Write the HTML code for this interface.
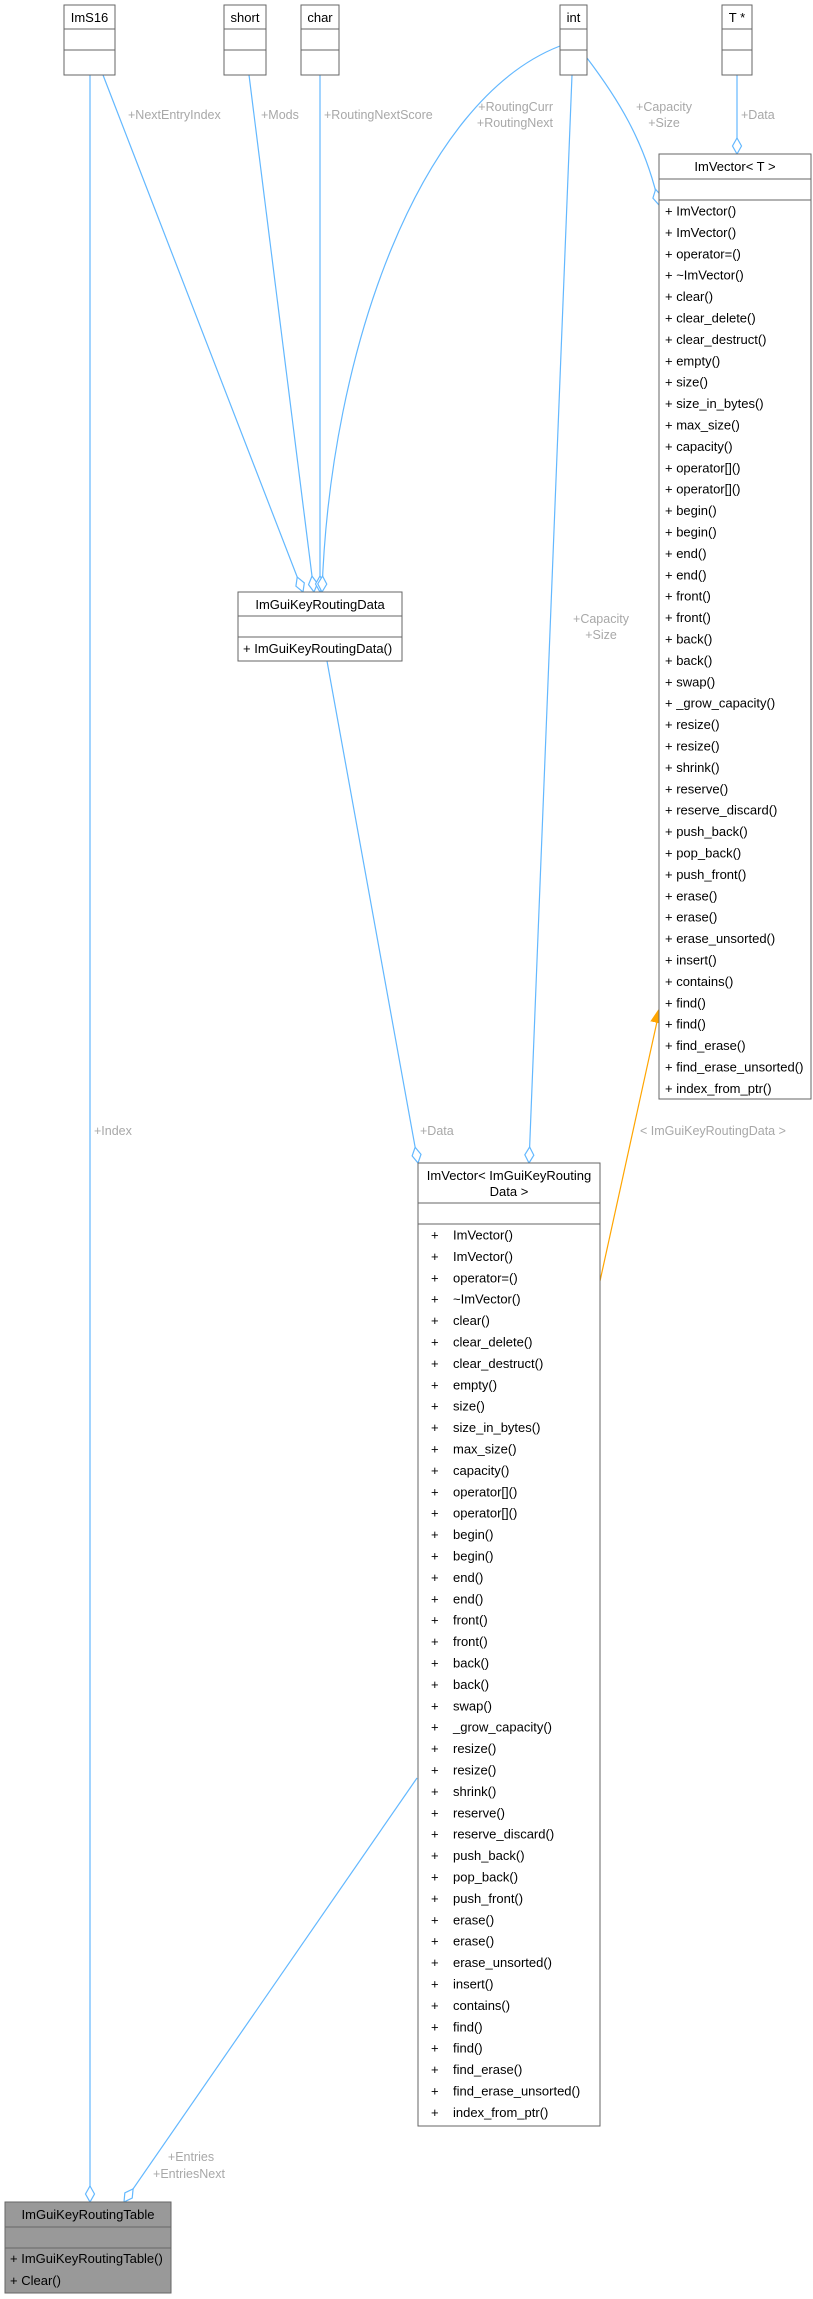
<!DOCTYPE html>
<html><head><meta charset="utf-8"><style>
html,body{margin:0;padding:0;background:#fff;}
svg{display:block;font-family:"Liberation Sans",Arial,sans-serif;}
.t{font-size:13px;fill:#000;}
.l{font-size:12.5px;fill:#a8a8a8;}
.b{fill:#fff;stroke:#666;stroke-width:1;}
.e{fill:none;stroke:#63b8ff;stroke-width:1.2;}
</style></head><body>
<svg width="813" height="2299" viewBox="0 0 813 2299" xmlns="http://www.w3.org/2000/svg">
<defs>
<marker id="d" markerUnits="userSpaceOnUse" markerWidth="20" markerHeight="12" refX="17" refY="6" orient="auto" viewBox="0 0 20 12">
<path d="M1,6 L9,1.5 L17,6 L9,10.5 Z" fill="#fff" stroke="#63b8ff" stroke-width="1.2"/>
</marker>
<marker id="a" markerUnits="userSpaceOnUse" markerWidth="16" markerHeight="14" refX="15" refY="7" orient="auto" viewBox="0 0 16 14">
<path d="M0,1 L15,7 L0,13 Z" fill="#ffa500" stroke="#ffa500"/>
</marker>
</defs>

<!-- edges -->
<path class="e" d="M90,75 L90,2202" marker-end="url(#d)"/>
<path class="e" d="M103,75 L303,592" marker-end="url(#d)"/>
<path class="e" d="M249,75 L314,592" marker-end="url(#d)"/>
<path class="e" d="M320,75 L320,592" marker-end="url(#d)"/>
<path class="e" d="M560,46 C420,100 330,350 322,592" marker-end="url(#d)"/>
<path class="e" d="M587,58 C615,95 645,140 659,205" marker-end="url(#d)"/>
<path class="e" d="M737,75 L737,154" marker-end="url(#d)"/>
<path class="e" d="M572,75 L529,1163" marker-end="url(#d)"/>
<path class="e" d="M327,661 L418,1163" marker-end="url(#d)"/>
<path class="e" d="M417,1778 L124,2202" marker-end="url(#d)"/>
<path d="M600,1281 L660,1008" stroke="#ffa500" stroke-width="1.2" fill="none" marker-end="url(#a)"/>

<!-- edge labels -->
<text class="l" x="128" y="119">+NextEntryIndex</text>
<text class="l" x="261" y="119">+Mods</text>
<text class="l" x="324" y="119">+RoutingNextScore</text>
<text class="l" x="553" y="111" text-anchor="end">+RoutingCurr</text>
<text class="l" x="553" y="127" text-anchor="end">+RoutingNext</text>
<text class="l" x="664" y="111" text-anchor="middle">+Capacity</text>
<text class="l" x="664" y="127" text-anchor="middle">+Size</text>
<text class="l" x="741" y="119">+Data</text>
<text class="l" x="601" y="623" text-anchor="middle">+Capacity</text>
<text class="l" x="601" y="639" text-anchor="middle">+Size</text>
<text class="l" x="94" y="1135">+Index</text>
<text class="l" x="420" y="1135">+Data</text>
<text class="l" x="640" y="1135">&lt; ImGuiKeyRoutingData &gt;</text>
<text class="l" x="191" y="2161" text-anchor="middle">+Entries</text>
<text class="l" x="189" y="2178" text-anchor="middle">+EntriesNext</text>

<!-- top boxes -->
<g>
<rect class="b" x="64" y="5" width="51" height="70"/><line class="b" x1="64" y1="29" x2="115" y2="29"/><line class="b" x1="64" y1="50" x2="115" y2="50"/>
<text class="t" x="89.5" y="22" text-anchor="middle">ImS16</text>
<rect class="b" x="224" y="5" width="42" height="70"/><line class="b" x1="224" y1="29" x2="266" y2="29"/><line class="b" x1="224" y1="50" x2="266" y2="50"/>
<text class="t" x="245" y="22" text-anchor="middle">short</text>
<rect class="b" x="301" y="5" width="38" height="70"/><line class="b" x1="301" y1="29" x2="339" y2="29"/><line class="b" x1="301" y1="50" x2="339" y2="50"/>
<text class="t" x="320" y="22" text-anchor="middle">char</text>
<rect class="b" x="560" y="5" width="27" height="70"/><line class="b" x1="560" y1="29" x2="587" y2="29"/><line class="b" x1="560" y1="50" x2="587" y2="50"/>
<text class="t" x="573.5" y="22" text-anchor="middle">int</text>
<rect class="b" x="722" y="5" width="30" height="70"/><line class="b" x1="722" y1="29" x2="752" y2="29"/><line class="b" x1="722" y1="50" x2="752" y2="50"/>
<text class="t" x="737" y="22" text-anchor="middle">T *</text>
</g>

<!-- ImGuiKeyRoutingData -->
<rect class="b" x="238" y="592" width="164" height="69"/><line class="b" x1="238" y1="616" x2="402" y2="616"/><line class="b" x1="238" y1="637" x2="402" y2="637"/>
<text class="t" x="320" y="609" text-anchor="middle">ImGuiKeyRoutingData</text>
<text class="t" x="243" y="653">+ ImGuiKeyRoutingData()</text>

<!-- ImVector<T> -->
<rect class="b" x="659" y="154" width="152" height="945"/><line class="b" x1="659" y1="179" x2="811" y2="179"/><line class="b" x1="659" y1="200" x2="811" y2="200"/>
<text class="t" x="735" y="171" text-anchor="middle">ImVector&lt; T &gt;</text>
<g id="m1" class="t">
<text x="665" y="215.5">+ ImVector()</text>
<text x="665" y="236.9">+ ImVector()</text>
<text x="665" y="258.3">+ operator=()</text>
<text x="665" y="279.7">+ ~ImVector()</text>
<text x="665" y="301.1">+ clear()</text>
<text x="665" y="322.5">+ clear_delete()</text>
<text x="665" y="343.9">+ clear_destruct()</text>
<text x="665" y="365.3">+ empty()</text>
<text x="665" y="386.7">+ size()</text>
<text x="665" y="408.1">+ size_in_bytes()</text>
<text x="665" y="429.5">+ max_size()</text>
<text x="665" y="450.9">+ capacity()</text>
<text x="665" y="472.3">+ operator[]()</text>
<text x="665" y="493.7">+ operator[]()</text>
<text x="665" y="515.1">+ begin()</text>
<text x="665" y="536.5">+ begin()</text>
<text x="665" y="557.9">+ end()</text>
<text x="665" y="579.3">+ end()</text>
<text x="665" y="600.7">+ front()</text>
<text x="665" y="622.1">+ front()</text>
<text x="665" y="643.5">+ back()</text>
<text x="665" y="664.9">+ back()</text>
<text x="665" y="686.3">+ swap()</text>
<text x="665" y="707.7">+ _grow_capacity()</text>
<text x="665" y="729.1">+ resize()</text>
<text x="665" y="750.5">+ resize()</text>
<text x="665" y="771.9">+ shrink()</text>
<text x="665" y="793.3">+ reserve()</text>
<text x="665" y="814.7">+ reserve_discard()</text>
<text x="665" y="836.1">+ push_back()</text>
<text x="665" y="857.5">+ pop_back()</text>
<text x="665" y="878.9">+ push_front()</text>
<text x="665" y="900.3">+ erase()</text>
<text x="665" y="921.7">+ erase()</text>
<text x="665" y="943.1">+ erase_unsorted()</text>
<text x="665" y="964.5">+ insert()</text>
<text x="665" y="985.9">+ contains()</text>
<text x="665" y="1007.3">+ find()</text>
<text x="665" y="1028.7">+ find()</text>
<text x="665" y="1050.1">+ find_erase()</text>
<text x="665" y="1071.5">+ find_erase_unsorted()</text>
<text x="665" y="1092.9">+ index_from_ptr()</text>
</g>

<!-- ImVector<ImGuiKeyRoutingData> -->
<rect class="b" x="418" y="1163" width="182" height="963"/><line class="b" x1="418" y1="1203" x2="600" y2="1203"/><line class="b" x1="418" y1="1224" x2="600" y2="1224"/>
<text class="t" x="509" y="1180" text-anchor="middle">ImVector&lt; ImGuiKeyRouting</text>
<text class="t" x="509" y="1196" text-anchor="middle">Data &gt;</text>
<g class="t">
<text x="431" y="1239.5">+</text><text x="453" y="1239.5">ImVector()</text>
<text x="431" y="1260.9">+</text><text x="453" y="1260.9">ImVector()</text>
<text x="431" y="1282.3">+</text><text x="453" y="1282.3">operator=()</text>
<text x="431" y="1303.7">+</text><text x="453" y="1303.7">~ImVector()</text>
<text x="431" y="1325.1">+</text><text x="453" y="1325.1">clear()</text>
<text x="431" y="1346.5">+</text><text x="453" y="1346.5">clear_delete()</text>
<text x="431" y="1367.9">+</text><text x="453" y="1367.9">clear_destruct()</text>
<text x="431" y="1389.3">+</text><text x="453" y="1389.3">empty()</text>
<text x="431" y="1410.7">+</text><text x="453" y="1410.7">size()</text>
<text x="431" y="1432.1">+</text><text x="453" y="1432.1">size_in_bytes()</text>
<text x="431" y="1453.5">+</text><text x="453" y="1453.5">max_size()</text>
<text x="431" y="1474.9">+</text><text x="453" y="1474.9">capacity()</text>
<text x="431" y="1496.3">+</text><text x="453" y="1496.3">operator[]()</text>
<text x="431" y="1517.7">+</text><text x="453" y="1517.7">operator[]()</text>
<text x="431" y="1539.1">+</text><text x="453" y="1539.1">begin()</text>
<text x="431" y="1560.5">+</text><text x="453" y="1560.5">begin()</text>
<text x="431" y="1581.9">+</text><text x="453" y="1581.9">end()</text>
<text x="431" y="1603.3">+</text><text x="453" y="1603.3">end()</text>
<text x="431" y="1624.7">+</text><text x="453" y="1624.7">front()</text>
<text x="431" y="1646.1">+</text><text x="453" y="1646.1">front()</text>
<text x="431" y="1667.5">+</text><text x="453" y="1667.5">back()</text>
<text x="431" y="1688.9">+</text><text x="453" y="1688.9">back()</text>
<text x="431" y="1710.3">+</text><text x="453" y="1710.3">swap()</text>
<text x="431" y="1731.7">+</text><text x="453" y="1731.7">_grow_capacity()</text>
<text x="431" y="1753.1">+</text><text x="453" y="1753.1">resize()</text>
<text x="431" y="1774.5">+</text><text x="453" y="1774.5">resize()</text>
<text x="431" y="1795.9">+</text><text x="453" y="1795.9">shrink()</text>
<text x="431" y="1817.3">+</text><text x="453" y="1817.3">reserve()</text>
<text x="431" y="1838.7">+</text><text x="453" y="1838.7">reserve_discard()</text>
<text x="431" y="1860.1">+</text><text x="453" y="1860.1">push_back()</text>
<text x="431" y="1881.5">+</text><text x="453" y="1881.5">pop_back()</text>
<text x="431" y="1902.9">+</text><text x="453" y="1902.9">push_front()</text>
<text x="431" y="1924.3">+</text><text x="453" y="1924.3">erase()</text>
<text x="431" y="1945.7">+</text><text x="453" y="1945.7">erase()</text>
<text x="431" y="1967.1">+</text><text x="453" y="1967.1">erase_unsorted()</text>
<text x="431" y="1988.5">+</text><text x="453" y="1988.5">insert()</text>
<text x="431" y="2009.9">+</text><text x="453" y="2009.9">contains()</text>
<text x="431" y="2031.3">+</text><text x="453" y="2031.3">find()</text>
<text x="431" y="2052.7">+</text><text x="453" y="2052.7">find()</text>
<text x="431" y="2074.1">+</text><text x="453" y="2074.1">find_erase()</text>
<text x="431" y="2095.5">+</text><text x="453" y="2095.5">find_erase_unsorted()</text>
<text x="431" y="2116.9">+</text><text x="453" y="2116.9">index_from_ptr()</text>
</g>

<!-- ImGuiKeyRoutingTable -->
<rect x="5" y="2202" width="166" height="91" fill="#999" stroke="#666"/>
<line x1="5" y1="2227" x2="171" y2="2227" stroke="#666"/>
<line x1="5" y1="2248" x2="171" y2="2248" stroke="#666"/>
<text class="t" x="88" y="2219" text-anchor="middle">ImGuiKeyRoutingTable</text>
<text class="t" x="10" y="2263">+ ImGuiKeyRoutingTable()</text>
<text class="t" x="10" y="2285">+ Clear()</text>
</svg>
</body></html>
